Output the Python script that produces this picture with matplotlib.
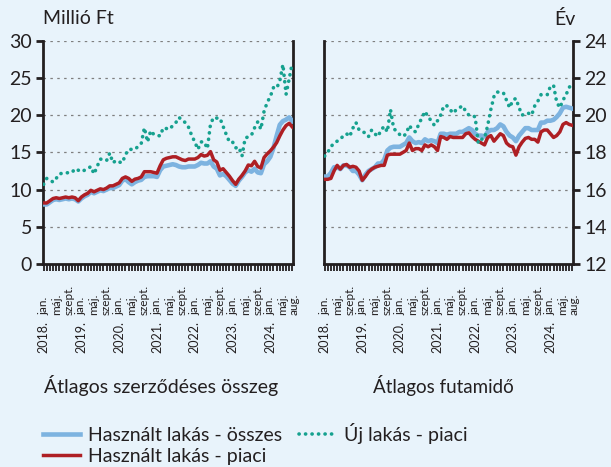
import matplotlib
matplotlib.use("Agg")
import matplotlib.pyplot as plt
from matplotlib.transforms import ScaledTranslation, blended_transform_factory

plt.rcParams['font.family'] = ['Lato', 'DejaVu Sans']

# havi adatok, 2018. jan. - 2024. aug.
osszeg_hasznalt_osszes = [8.0, 8.0, 8.3, 8.6, 8.7, 8.6, 8.7, 8.8, 8.7, 8.8, 8.7, 8.4,
                          8.8, 9.1, 9.3, 9.7, 9.5, 9.7, 9.9, 9.8, 10.0, 10.2, 10.2, 10.4,
                          10.6, 11.2, 11.4, 11.0, 10.7, 11.0, 11.2, 11.3, 11.7, 11.8, 11.8, 11.8,
                          11.7, 12.6, 13.1, 13.2, 13.3, 13.4, 13.3, 13.1, 13.0, 13.0, 13.1, 13.1,
                          13.1, 13.3, 13.6, 13.5, 13.5, 13.8, 13.1, 12.8, 11.9, 12.1, 11.8, 11.3,
                          10.8, 10.5, 11.2, 11.7, 12.3, 12.6, 12.4, 12.8, 12.3, 12.2, 13.4, 13.8,
                          14.4, 15.6, 17.2, 18.7, 19.2, 19.4, 19.7, 19.2]
osszeg_hasznalt_piaci = [8.2, 8.2, 8.5, 8.8, 8.9, 8.8, 8.9, 9.0, 8.9, 9.0, 8.9, 8.5,
                         9.0, 9.3, 9.5, 9.9, 9.7, 9.9, 10.1, 10.0, 10.2, 10.5, 10.5, 10.7,
                         10.9, 11.5, 11.7, 11.5, 11.1, 11.4, 11.5, 11.7, 12.4, 12.4, 12.4, 12.3,
                         12.2, 13.2, 14.0, 14.2, 14.3, 14.4, 14.4, 14.2, 14.0, 13.9, 14.1, 14.1,
                         14.1, 14.3, 14.7, 14.5, 14.6, 15.1, 14.0, 13.7, 12.6, 12.8, 12.3, 11.8,
                         11.2, 10.7, 11.4, 11.9, 12.5, 13.3, 13.2, 13.8, 13.1, 12.9, 14.3, 14.8,
                         15.2, 15.7, 16.3, 17.2, 18.0, 18.6, 18.9, 18.4]
osszeg_uj_piaci = [10.7, 11.5, 11.3, 11.0, 11.5, 12.1, 12.2, 12.2, 12.3, 12.3, 12.8, 12.6,
                   12.4, 12.6, 12.8, 13.1, 12.1, 13.1, 14.1, 14.0, 13.9, 14.9, 13.6, 13.9,
                   13.7, 13.6, 14.7, 15.4, 15.4, 15.4, 15.8, 16.2, 18.3, 16.4, 17.9, 17.4,
                   17.3, 17.2, 18.3, 18.2, 18.1, 18.6, 19.0, 19.7, 19.3, 19.0, 18.4, 17.3,
                   16.4, 15.4, 16.4, 16.4, 15.5, 18.8, 19.7, 19.6, 19.6, 18.5, 17.4, 16.4,
                   16.4, 15.6, 15.7, 14.5, 16.9, 17.1, 17.3, 18.3, 19.1, 18.1, 20.5, 21.7,
                   22.5, 23.7, 23.6, 24.6, 26.8, 22.8, 24.9, 27.1]

futamido_hasznalt_osszes = [16.7, 16.7, 16.9, 17.2, 17.2, 17.1, 17.3, 17.3, 17.2, 17.0, 17.0, 16.8,
                            16.5, 16.8, 17.0, 17.1, 17.2, 17.4, 17.4, 17.6, 18.1, 18.25, 18.3, 18.3,
                            18.3, 18.4, 18.5, 18.8, 18.6, 18.5, 18.55, 18.5, 18.7, 18.6, 18.65, 18.6,
                            18.5, 19.0, 19.0, 18.95, 19.0, 19.0, 19.0, 19.1, 19.1, 19.2, 19.3, 19.2,
                            19.0, 18.9, 18.9, 18.85, 19.1, 19.2, 19.2, 19.3, 19.5, 19.4, 19.1, 18.9,
                            18.8, 18.6, 18.9, 19.1, 19.3, 19.3, 19.2, 19.2, 19.2, 19.6, 19.6, 19.7,
                            19.7, 19.75, 19.9, 20.1, 20.4, 20.45, 20.4, 20.35]
futamido_hasznalt_piaci = [16.55, 16.55, 16.6, 17.0, 17.3, 17.1, 17.3, 17.35, 17.2, 17.25, 17.2, 17.0,
                           16.5, 16.7, 16.95, 17.1, 17.2, 17.25, 17.3, 17.3, 17.85, 17.9, 17.9, 17.9,
                           17.9, 18.0, 18.1, 18.5, 18.1, 18.2, 18.2, 18.1, 18.4, 18.3, 18.4, 18.3,
                           18.1, 18.85, 18.8, 18.7, 18.85, 18.8, 18.8, 18.8, 18.8, 19.0, 19.05, 18.85,
                           18.7, 18.6, 18.5, 18.4, 18.8, 18.9, 18.6, 18.8, 19.0, 18.9, 18.5, 18.35,
                           18.3, 17.85, 18.3, 18.55, 18.75, 18.8, 18.7, 18.7, 18.55, 19.1, 19.2, 19.2,
                           19.0, 18.8, 18.9, 19.1, 19.5, 19.6, 19.5, 19.45]
futamido_uj_piaci = [17.8, 18.0, 18.3, 18.5, 18.6, 18.7, 18.9, 19.0, 18.85, 19.3, 19.6, 19.2,
                     19.1, 19.05, 18.85, 19.2, 19.0, 18.85, 19.2, 19.4, 19.1, 20.3, 19.3, 19.1,
                     18.95, 18.85, 19.0, 19.45, 19.2, 19.1, 19.5, 19.85, 20.2, 19.9, 19.7, 19.45,
                     19.7, 20.0, 20.5, 20.5, 20.3, 20.1, 20.3, 20.4, 20.5, 20.2, 20.0, 20.0,
                     19.9, 18.5, 18.7, 18.75, 19.45, 20.3, 21.0, 21.25, 21.2, 21.2, 20.8, 20.4,
                     20.8, 20.9, 20.4, 20.0, 20.1, 20.1, 20.0, 20.5, 20.75, 21.1, 21.1, 21.1,
                     21.55, 21.6, 20.7, 20.4, 20.8, 21.1, 21.5, 21.65]

# two level axis: month names on the ticks, years below the jan. ticks
honapok = ['jan.', 'máj.', 'szept.']
tick_pos = list(range(0, 80, 4)) + [79]
tick_labels = [honapok[(i % 12) // 4] for i in range(0, 80, 4)] + ['aug.']
ev_pos = list(range(0, 80, 12))
ev_labels = [f"{2018 + i // 12}." for i in ev_pos]

bg = '#E8F3FB'
c_blue = '#7DB3E0'
c_red = '#AE1F24'
c_green = '#16A18F'
c_axis = '#231F20'

fig = plt.figure(figsize=(6.11, 4.67), dpi=100, facecolor=bg)
ax1 = fig.add_axes([43 / 611, 203 / 467, 250 / 611, 223.3 / 467])
ax2 = fig.add_axes([324 / 611, 203 / 467, 249 / 611, 223.3 / 467])

x = list(range(80))
dotted = (0, (0.05, 1.75))

for ax, blue, red, green in [(ax1, osszeg_hasznalt_osszes, osszeg_hasznalt_piaci, osszeg_uj_piaci),
                             (ax2, futamido_hasznalt_osszes, futamido_hasznalt_piaci, futamido_uj_piaci)]:
    ax.set_facecolor(bg)
    ax.plot(x, blue, color=c_blue, lw=3.3, solid_joinstyle='round', label='Használt lakás - összes', zorder=3)
    ax.plot(x, red, color=c_red, lw=2.5, solid_joinstyle='round', label='Használt lakás - piaci', zorder=4)
    ax.plot(x, green, color=c_green, lw=2.6, linestyle=dotted, dash_capstyle='round',
            label='Új lakás - piaci', zorder=5)
    ax.set_xlim(-0.2, 79.2)
    ax.set_xticks(tick_pos)
    ax.set_xticklabels(tick_labels, rotation=90, fontsize=8.5, color=c_axis, va='bottom')
    ax.set_xticks(x, minor=True)
    ax.tick_params(axis='x', which='both', direction='out', length=5, width=1.3, color=c_axis, pad=2)
    # month names end at a common baseline, about 40 px under the axis
    for lab in ax.get_xticklabels():
        dx = 0.02 if lab.get_text() == 'aug.' else 0
        lab.set_transform(lab.get_transform() + ScaledTranslation(dx, -0.41, fig.dpi_scale_trans))
    trans = blended_transform_factory(ax.transData, ax.transAxes)
    for p, ev in zip(ev_pos, ev_labels):
        ax.text(p, -0.255, ev, transform=trans, rotation=90, fontsize=9, color=c_axis,
                ha='center', va='top')
    ax.grid(axis='y', color='#7F7F7F', linestyle=(0, (2, 3.5)), linewidth=0.9, zorder=1)
    for s in ax.spines.values():
        s.set_color(c_axis)
        s.set_linewidth(2)
    ax.spines['top'].set_visible(False)

ax1.set_ylim(0, 30)
ax1.set_yticks(range(0, 31, 5))
ax1.tick_params(axis='y', labelsize=14, length=5, width=2, color=c_axis, labelcolor=c_axis, pad=3)

ax2.set_ylim(12, 24)
ax2.set_yticks(range(12, 25, 2))
ax2.yaxis.tick_right()
ax2.tick_params(axis='y', labelsize=14, length=5, width=2, color=c_axis, labelcolor=c_axis, pad=3)

fig.text(43 / 611, 1 - 19 / 467, 'Millió Ft', fontsize=14, color=c_axis, va='center', ha='left')
fig.text(576 / 611, 1 - 19 / 467, 'Év', fontsize=14, color=c_axis, va='center', ha='right')
fig.text(161 / 611, 1 - 385 / 467, 'Átlagos szerződéses összeg', fontsize=14, color=c_axis,
         ha='center', va='center')
fig.text(443 / 611, 1 - 385 / 467, 'Átlagos futamidő', fontsize=13.5, color=c_axis,
         ha='center', va='center')

handles, labels = ax1.get_legend_handles_labels()
fig.legend(handles, labels, ncol=2, loc='lower left', bbox_to_anchor=(41 / 611, 0.0),
           borderaxespad=0, frameon=False, fontsize=14, handlelength=1.9, handletextpad=0.4,
           columnspacing=0.9, labelspacing=0.2, borderpad=0.1, labelcolor=c_axis)

fig.savefig('out.png', dpi=100, facecolor=bg)
